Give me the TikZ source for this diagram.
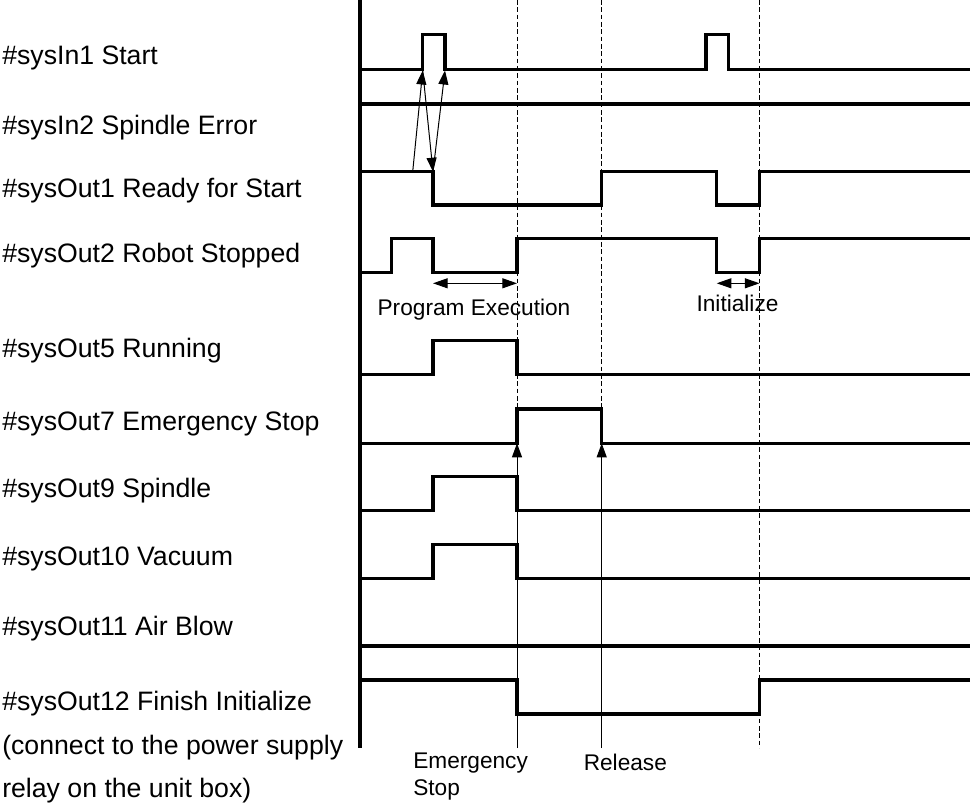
\documentclass[tikz,border=0pt]{standalone}
\usepackage{fontspec}
\setmainfont{Liberation Sans}
\usetikzlibrary{arrows.meta}
\begin{document}
\begin{tikzpicture}[x=0.75pt,y=-0.75pt,
  sig/.style={line width=2.4pt,line join=miter},
  axisline/.style={line width=2.7pt},
  thin/.style={line width=0.75pt},
  guide/.style={line width=0.75pt,dash pattern=on 3.5pt off 2pt},
  tip/.style={-{Triangle[length=10.5pt,width=7.5pt]}},
  both/.style={{Triangle[length=11pt,width=7.5pt]}-{Triangle[length=11pt,width=7.5pt]}},
  lbl/.style={anchor=base west,inner sep=0pt,font=\fontsize{20}{24}\selectfont},
  small/.style={inner sep=0pt,font=\fontsize{17}{20}\selectfont}]
\useasboundingbox (0,0) rectangle (973,809);
% left labels
\node[lbl] (l1) at (2,65) {\#sysIn1 Start};
\node[lbl] (l2) at (2,135) {\#sysIn2 Spindle Error};
\node[lbl] (l3) at (2,198) {\#sysOut1 Ready for Start};
\node[lbl] (l4) at (2,262) {\#sysOut2 Robot Stopped};
\node[lbl] (l5) at (2,357) {\#sysOut5 Running};
\node[lbl] (l6) at (2,430.5) {\#sysOut7 Emergency Stop};
\node[lbl] (l7) at (2,497) {\#sysOut9 Spindle};
\node[lbl] (l8) at (2,565.5) {\#sysOut10 Vacuum};
\node[lbl] (l9) at (2,635) {\#sysOut11 Air Blow};
\node[lbl] (l10) at (2,710) {\#sysOut12 Finish Initialize};
\node[lbl] (l11) at (2,754) {(connect to the power supply};
\node[lbl] (l12) at (2,797) {relay on the unit box)};
% guides
\draw[guide] (517,0) -- (517,409);
\draw[guide] (601.7,0) -- (601.7,409);
\draw[guide] (759.5,0) -- (759.5,748);
% axis
\draw[axisline] (360,0) -- (360,748);
% signals
\draw[sig] (360,69.3) -- (422.7,69.3) -- (422.7,34.3) -- (445,34.3) -- (445,69.3) -- (706,69.3) -- (706,34.3) -- (728.3,34.3) -- (728.3,69.3) -- (970,69.3);
\draw[sig] (360,104) -- (970,104);
\draw[sig] (360,171.7) -- (433,171.7) -- (433,205) -- (601.7,205) -- (601.7,171.7) -- (716.7,171.7) -- (716.7,205) -- (759.5,205) -- (759.5,171.7) -- (970,171.7);
\draw[sig] (360,272.7) -- (391.7,272.7) -- (391.7,238.3) -- (433,238.3) -- (433,272.7) -- (517,272.7) -- (517,238.3) -- (716.7,238.3) -- (716.7,272.7) -- (759.5,272.7) -- (759.5,238.3) -- (970,238.3);
\draw[sig] (360,374.3) -- (433,374.3) -- (433,340.7) -- (517,340.7) -- (517,374.3) -- (970,374.3);
\draw[sig] (360,443.3) -- (517,443.3) -- (517,409) -- (601.7,409) -- (601.7,443.3) -- (970,443.3);
\draw[sig] (360,510.7) -- (433,510.7) -- (433,476.7) -- (517,476.7) -- (517,510.7) -- (970,510.7);
\draw[sig] (360,578.3) -- (433,578.3) -- (433,544.3) -- (517,544.3) -- (517,578.3) -- (970,578.3);
\draw[sig] (360,646) -- (970,646);
\draw[sig] (360,680) -- (517,680) -- (517,714) -- (759.5,714) -- (759.5,680) -- (970,680);
% named points for causal arrows
\coordinate (rdy) at (412.7,171.7);
\coordinate (strUp) at (422.7,70.5);
\coordinate (rdyFall) at (433,171.7);
\coordinate (strDn) at (445,70.5);
\coordinate (esBot) at (517,748);
\coordinate (esTop) at (517,443.3);
\coordinate (relBot) at (601.7,748);
\coordinate (relTop) at (601.7,443.3);
\coordinate (peL) at (433,283.3);
\coordinate (peR) at (517,283.3);
\coordinate (inL) at (716.7,283.3);
\coordinate (inR) at (759.5,283.3);
\draw[thin,tip] (rdy) -- (strUp);
\draw[thin,tip] (strUp) -- (rdyFall);
\draw[thin,tip] (rdyFall) -- (strDn);
\draw[thin,tip] (esBot) -- (esTop);
\draw[thin,tip] (relBot) -- (relTop);
\draw[thin,both] (peL) -- (peR);
\draw[thin,both] (inL) -- (inR);
% bottom/middle labels
\node[small,anchor=base] (pe) at (474,315) {Program Execution};
\node[small,anchor=base] (ini) at (737.5,311.5) {Initialize};
\node[small,anchor=base west] (es1) at (413,768) {Emergency};
\node[small,anchor=base west] (es2) at (413,795) {Stop};
\node[small,anchor=base west] (rel) at (583.5,770) {Release};
\end{tikzpicture}
\end{document}
